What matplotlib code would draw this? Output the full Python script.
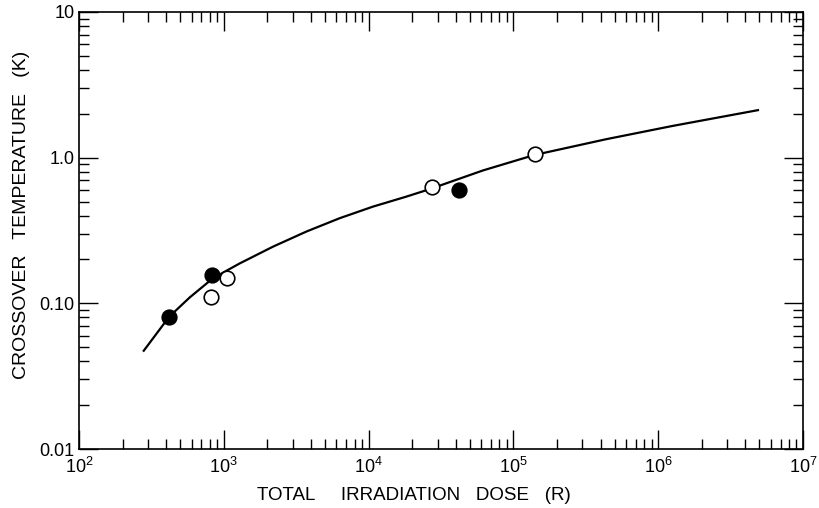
import matplotlib
matplotlib.use("Agg")
import matplotlib.pyplot as plt
import numpy as np
from matplotlib.ticker import LogLocator, NullFormatter, FixedLocator

plt.rcParams['font.family'] = ['Liberation Sans', 'DejaVu Sans']

# Data
filled_dose = [418, 826, 41800]
filled_temp = [0.081, 0.157, 0.60]
open_dose = [813, 1050, 27200, 142000]
open_temp = [0.111, 0.149, 0.63, 1.06]

curve_dose = [277, 420, 583, 844, 1289, 2188, 3718, 6310, 10700, 18200, 26300,
              61600, 139600, 436000, 1.255e6, 4.97e6]
curve_temp = [0.0466, 0.081, 0.110, 0.149, 0.188, 0.245, 0.311, 0.384, 0.461, 0.540, 0.607,
              0.817, 1.043, 1.338, 1.651, 2.126]

y_ticks = [0.01, 0.1, 1.0, 10]
y_ticklabels = ['0.01', '0.10', '1.0', '10']
x_ticks = [1e2, 1e3, 1e4, 1e5, 1e6, 1e7]
x_ticklabels = [r'$\mathregular{10^{2}}$', r'$\mathregular{10^{3}}$', r'$\mathregular{10^{4}}$',
                r'$\mathregular{10^{5}}$', r'$\mathregular{10^{6}}$', r'$\mathregular{10^{7}}$']

fig = plt.figure(figsize=(8.19, 5.08), dpi=100)
ax = fig.add_axes([79/819, 59/508, 724/819, 437/508])

ax.plot(curve_dose, curve_temp, color='black', lw=1.6, zorder=2,
        solid_joinstyle='round', solid_capstyle='butt')
ax.plot(open_dose, open_temp, 'o', ms=10.5, mfc='white', mec='black', mew=1.2, zorder=3)
ax.plot(filled_dose, filled_temp, 'o', ms=10.5, mfc='black', mec='black', mew=1.2, zorder=3)

ax.set_xscale('log')
ax.set_yscale('log')
ax.set_xlim(1e2, 1e7)
ax.set_ylim(0.01, 10)

ax.xaxis.set_major_locator(FixedLocator(x_ticks))
ax.set_xticklabels(x_ticklabels)
ax.yaxis.set_major_locator(FixedLocator(y_ticks))
ax.set_yticklabels(y_ticklabels)
ax.xaxis.set_minor_locator(LogLocator(base=10, subs=np.arange(2, 10), numticks=20))
ax.yaxis.set_minor_locator(LogLocator(base=10, subs=np.arange(2, 10), numticks=20))
ax.xaxis.set_minor_formatter(NullFormatter())
ax.yaxis.set_minor_formatter(NullFormatter())

ax.tick_params(which='both', direction='in', top=True, right=True, width=1.0, colors='black')
ax.tick_params(which='major', length=14, labelsize=13, pad=6)
ax.tick_params(which='minor', length=7.5)
ax.tick_params(axis='y', which='major', pad=3)

for s in ax.spines.values():
    s.set_linewidth(1.2)

fig.text(257/819, 8/508, 'TOTAL     IRRADIATION   DOSE   (R)', fontsize=13.5,
         ha='left', va='baseline')
ax.set_ylabel('CROSSOVER   TEMPERATURE   (K)', fontsize=14, labelpad=6)
ax.yaxis.set_label_coords(-0.068, 0.535)

fig.savefig('out.png', dpi=100)
